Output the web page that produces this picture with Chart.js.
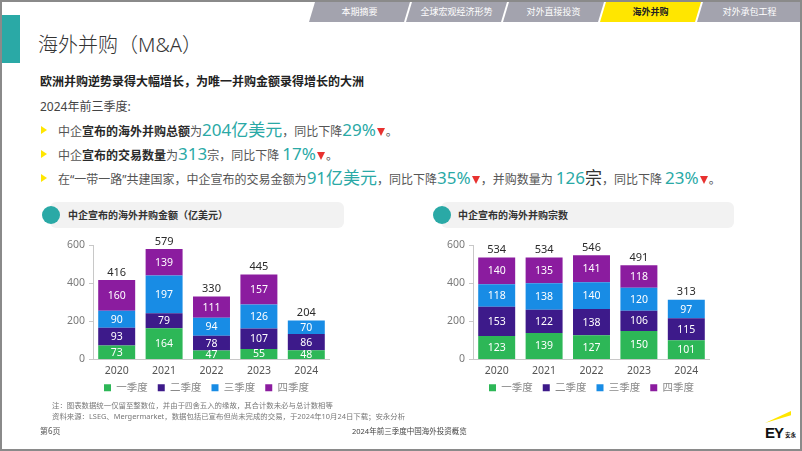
<!DOCTYPE html>
<html>
<head>
<meta charset="utf-8">
<script src="https://cdn.jsdelivr.net/npm/chart.js@4/dist/chart.umd.min.js"></script>
<style>
  html, body { margin: 0; padding: 0; background: #fff; }
  body { font-family: "Noto Sans", "Noto Sans CJK SC", sans-serif; }
  #slide { position: relative; width: 802px; height: 451px; overflow: hidden; background: #fff; }
  #frame { position: absolute; left: 0; top: 0; width: 802px; height: 451px; box-sizing: border-box; border: 2px solid #8a8a8a; pointer-events: none; z-index: 5; }
  .abs { position: absolute; white-space: nowrap; }
  .tab { position: absolute; top: 2px; height: 20px; background: #a3a3ae; color: #fff; font-size: 9px; line-height: 20px; text-align: center; }
  .tab.on { background: #ffe600; color: #222; font-weight: bold; }
  .teal { color: #2aa9a6; font-size: 17px; }
  .b { position: absolute; left: 58px; white-space: nowrap; font-size: 12px; color: #555; line-height: 20px; }
  .b strong { color: #2a2a2a; font-weight: 600; }
  .tri { position: absolute; left: 41px; width: 0; height: 0; border-left: 6px solid #ffe600; border-top: 4px solid transparent; border-bottom: 4px solid transparent; }
  .dn { display: inline-block; width: 0; height: 0; border-top: 8px solid #e8312f; border-left: 4.5px solid transparent; border-right: 4.5px solid transparent; margin: 0 1px; }
  .pill { position: absolute; height: 26px; background: #f2f2f2; border-radius: 6px; }
  .dot { position: absolute; width: 18px; height: 18px; border-radius: 50%; background: #2aa9a6; }
  .ptitle { position: absolute; font-size: 10px; font-weight: 600; color: #333; line-height: 26px; white-space: nowrap; }
  canvas { position: absolute; }
</style>
</head>
<body>
<div id="slide">
  <div id="frame"></div>

  <div class="tab" style="left:309px;width:101px;clip-path:polygon(6px 0,101px 0,95px 100%,0 100%)">本期摘要</div>
  <div class="tab" style="left:406px;width:101px;clip-path:polygon(6px 0,101px 0,95px 100%,0 100%)">全球宏观经济形势</div>
  <div class="tab" style="left:503px;width:101px;clip-path:polygon(6px 0,101px 0,95px 100%,0 100%)">对外直接投资</div>
  <div class="tab on" style="left:600px;width:101px;clip-path:polygon(6px 0,101px 0,95px 100%,0 100%)">海外并购</div>
  <div class="tab" style="left:697px;width:105px;clip-path:polygon(6px 0,105px 0,105px 100%,0 100%)">对外承包工程</div>

  <div class="abs" style="left:2px;top:15px;width:18px;height:48px;background:#2aa9a6"></div>
  <div class="abs" style="left:38px;top:31px;font-size:20px;font-weight:300;color:#333;line-height:28px">海外并购（M&amp;A）</div>

  <div class="abs" style="left:40px;top:73px;font-size:12px;font-weight:bold;color:#222;line-height:18px">欧洲并购逆势录得大幅增长，为唯一并购金额录得增长的大洲</div>
  <div class="abs" style="left:40px;top:98px;font-size:12px;color:#444;line-height:18px">2024年前三季度:</div>

  <div class="tri" style="top:126px"></div>
  <div class="b" style="top:120px">中企<strong>宣布的海外并购总额</strong>为<span class="teal">204亿美元</span>，同比下降<span class="teal">29%</span><i class="dn"></i>。</div>
  <div class="tri" style="top:150px"></div>
  <div class="b" style="top:144px">中企<strong>宣布的交易数量</strong>为<span class="teal">313</span>宗，同比下降 <span class="teal">17%</span><i class="dn"></i>。</div>
  <div class="tri" style="top:174px"></div>
  <div class="b" style="top:168px">在“一带一路”共建国家，中企宣布的交易金额为<span class="teal">91亿美元</span>，同比下降<span class="teal">35%</span><i class="dn"></i>，并购数量为 <span class="teal">126</span><span style="font-size:17px;color:#333">宗</span>，同比下降 <span class="teal">23%</span><i class="dn"></i>。</div>

  <div class="pill" style="left:50px;top:202px;width:294px"></div>
  <div class="dot" style="left:42px;top:206px"></div>
  <div class="ptitle" style="left:68px;top:202px">中企宣布的海外并购金额（亿美元）</div>

  <div class="pill" style="left:441px;top:202px;width:293px"></div>
  <div class="dot" style="left:433px;top:206px"></div>
  <div class="ptitle" style="left:458px;top:202px">中企宣布的海外并购宗数</div>

  <canvas id="amountChart" width="290" height="176" style="left:40px;top:230px"></canvas>
  <canvas id="countChart" width="290" height="176" style="left:420px;top:230px"></canvas>

  <div class="abs" style="left:52px;top:400px;font-size:7.4px;color:#777;line-height:10px">注：图表数据统一仅留至整数位，并由于四舍五入的缘故，其合计数未必与总计数相等</div>
  <div class="abs" style="left:52px;top:411px;font-size:7.4px;color:#777;line-height:10px">资料来源：LSEG、Mergermarket，数据包括已宣布但尚未完成的交易，于2024年10月24日下载；安永分析</div>
  <div class="abs" style="left:40px;top:425px;font-size:8px;color:#555;line-height:11px">第6页</div>
  <div class="abs" style="left:352px;top:426px;font-size:7.5px;color:#444;line-height:11px">2024年前三季度中国海外投资概览</div>

  <div class="abs" style="left:765px;top:411px;width:26px;height:12px;background:#ffe600;clip-path:polygon(0 100%,100% 0,100% 35%,0 100%)"></div>
  <div class="abs" style="left:765px;top:425px;font-size:15px;font-weight:bold;color:#111;line-height:16px;font-family:'Liberation Sans',sans-serif;letter-spacing:-1px">EY</div>
  <div class="abs" style="left:785px;top:431px;font-size:5.5px;font-weight:bold;color:#111;line-height:8px">安永</div>
</div>

<script>
const years = ['2020', '2021', '2022', '2023', '2024']
const quarterNames = ['一季度', '二季度', '三季度', '四季度']
const quarterColors = ['#2db757', '#3d1a8a', '#188ce5', '#8b1c9f']

// 中企宣布的海外并购金额（亿美元）
const amountQ1 = [73, 164, 47, 55, 48]
const amountQ2 = [93, 79, 78, 107, 86]
const amountQ3 = [90, 197, 94, 126, 70]
const amountQ4 = [160, 139, 111, 157, null]
const amountTotals = [416, 579, 330, 445, 204]

// 中企宣布的海外并购宗数
const countQ1 = [123, 139, 127, 150, 101]
const countQ2 = [153, 122, 138, 106, 115]
const countQ3 = [118, 138, 140, 120, 97]
const countQ4 = [140, 135, 141, 118, null]
const countTotals = [534, 534, 546, 491, 313]

const yTicks = [0, 200, 400, 600]

Chart.defaults.font.family = '"Noto Sans", "Noto Sans CJK SC", sans-serif'
Chart.defaults.animation = false

// draws the segment values inside the bars and the totals on top
const valueLabels = {
  id: 'valueLabels',
  afterDatasetsDraw(chart, args, opts) {
    const { ctx } = chart
    ctx.save()
    ctx.textAlign = 'center'
    ctx.textBaseline = 'middle'
    ctx.fillStyle = '#ffffff'
    ctx.font = '10.5px "Noto Sans", sans-serif'
    const tops = []
    chart.data.datasets.forEach((ds, i) => {
      chart.getDatasetMeta(i).data.forEach((bar, j) => {
        const v = ds.data[j]
        if (v == null) return
        const { x, y, base } = bar.getProps(['x', 'y', 'base'], true)
        ctx.fillText(String(v), x, (y + base) / 2 + 0.5)
        if (tops[j] == null || y < tops[j].y) tops[j] = { x, y }
      })
    })
    ctx.fillStyle = '#2b2b2b'
    ctx.font = '11px "Noto Sans", sans-serif'
    ctx.textBaseline = 'bottom'
    tops.forEach((t, j) => {
      ctx.fillText(String(opts.totals[j]), t.x, t.y - 2)
    })
    ctx.restore()
  }
}

// nudges the legend a little off the chart-area centre, like the slide
const legendShift = {
  id: 'legendShift',
  afterLayout(chart, args, opts) {
    const lg = chart.legend
    if (!lg) return
    lg.left += opts.dx
    lg.right += opts.dx
    lg.top += opts.dy
    lg.bottom += opts.dy
  }
}

function stackedChart(canvas, series, totals, legendDx) {
  const datasets = series.map((data, i) => ({
    label: quarterNames[i],
    data,
    backgroundColor: quarterColors[i],
    borderWidth: 0,
    barPercentage: 0.78,
    categoryPercentage: 1
  }))

  return new Chart(canvas, {
    type: 'bar',
    data: { labels: years, datasets },
    plugins: [valueLabels, legendShift],
    options: {
      responsive: false,
      layout: { padding: { top: 15, left: 23, right: 0, bottom: 0 } },
      plugins: {
        tooltip: { enabled: false },
        valueLabels: { totals },
        legendShift: { dx: legendDx, dy: -3 },
        legend: {
          position: 'bottom',
          fullSize: false,
          onClick: null,
          labels: {
            boxWidth: 7,
            boxHeight: 7,
            padding: 10,
            color: '#8a8a8a',
            font: { size: 10.5 }
          }
        }
      },
      scales: {
        x: {
          stacked: true,
          grid: { display: false, drawTicks: false },
          border: { display: true, color: '#c8c8c8' },
          ticks: { color: '#555', padding: 5, font: { size: 10.5 } },
          afterFit: (scale) => { scale.height = 16 }
        },
        y: {
          stacked: true,
          min: 0,
          max: 600,
          afterBuildTicks: (scale) => { scale.ticks = yTicks.map(value => ({ value })) },
          grid: { drawOnChartArea: false, drawTicks: true, tickLength: 4, color: '#c8c8c8' },
          border: { display: true, color: '#c8c8c8' },
          ticks: { color: '#7a7a7a', padding: 4, font: { size: 10.5 } },
          afterFit: (scale) => { scale.width = 30 }
        }
      }
    }
  })
}

stackedChart(document.getElementById('amountChart'),
  [amountQ1, amountQ2, amountQ3, amountQ4], amountTotals, -5)
stackedChart(document.getElementById('countChart'),
  [countQ1, countQ2, countQ3, countQ4], countTotals, 0)
</script>
</body>
</html>
